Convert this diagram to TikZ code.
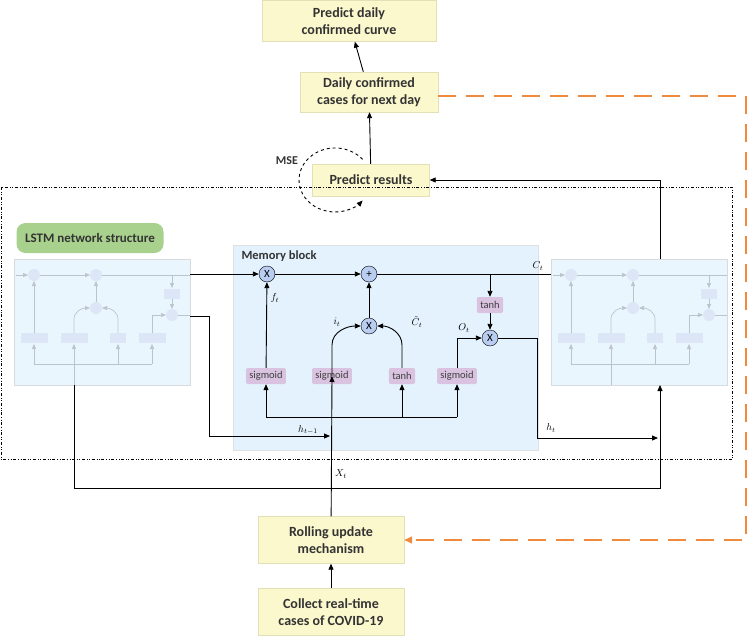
\documentclass[tikz,border=0pt]{standalone}
\usepackage{fontspec}
\setmainfont{Carlito}
\usetikzlibrary{arrows.meta,positioning}
\definecolor{boxfill}{HTML}{FCF8CE}
\definecolor{boxline}{HTML}{E3E0B8}
\definecolor{cellfill}{HTML}{EAF6FE}
\definecolor{memfill}{HTML}{E3F2FC}
\definecolor{gatefill}{HTML}{D9C3E0}
\definecolor{opfill}{HTML}{B9CDF0}
\definecolor{ghost}{HTML}{BCC3CA}
\definecolor{ghostfill}{HTML}{DDE6F6}
\definecolor{lstmgreen}{HTML}{A9D18E}
\definecolor{dashorange}{HTML}{F08A3C}
\tikzset{
  flowbox/.style={draw=boxline, fill=boxfill, minimum width=146pt, align=center,
    font=\fontsize{14}{17}\selectfont\bfseries\color{black!80}},
  gate/.style={fill=gatefill, rounded corners=2pt, minimum height=16pt,
    font=\fontsize{10.5}{11}\selectfont\color{black!75}},
  op/.style={circle, draw, fill=opfill, inner sep=0pt, minimum size=16pt,
    font=\fontsize{11}{11}\selectfont},
  lbl/.style={font=\fontsize{10}{11}\selectfont\itshape},
  conn/.style={-{Triangle[length=6pt,width=5pt]}, line width=0.9pt},
  ghostarr/.style={-{Triangle[length=5pt,width=4pt]}, draw=ghost, line width=0.7pt}
}
% faint copy of the cell, origin at its top-left corner
\newcommand\ghostcell[1]{%
  \begin{scope}[shift={#1}]
    \draw[ghost!60, fill=cellfill] (0,0) rectangle (176,126);
    \fill[ghostfill] (20,16) circle (6) (82,16) circle (6) (82,49) circle (6) (158,56) circle (6);
    \fill[ghostfill] (150,30) rectangle (166,40);
    \foreach \x/\w in {20/27,60/27,104/16,138/27}
      \fill[ghostfill] (\x-\w/2,74) rectangle (\x+\w/2,84);
    \draw[ghostarr] (2,16) -- (14,16);
    \draw[ghostarr] (26,16) -- (76,16);
    \draw[ghost, line width=0.7pt] (88,16) -- (176,16);
    \draw[ghostarr] (158,16) -- (158,29);
    \draw[ghostarr] (158,40) -- (158,50);
    \draw[ghostarr] (20,74) -- (20,22);
    \draw[ghostarr] (82,43) -- (82,22);
    \draw[ghostarr] (60,74) -- (60,60) to[out=90,in=180] (76,49);
    \draw[ghostarr] (104,74) -- (104,60) to[out=90,in=0] (88,49);
    \draw[ghostarr] (138,74) -- (138,56) -- (152,56);
    \draw[ghost, line width=0.7pt] (164,56) -- (176,56);
    \draw[ghost, line width=0.7pt] (20,105) -- (138,105);
    \foreach \x in {20,60,104,138}
      \draw[ghostarr] (\x,105) -- (\x,85);
    \draw[ghost, line width=0.7pt] (60,126) -- (60,105);
  \end{scope}}

\begin{document}
\begin{tikzpicture}[x=1pt,y=-1pt]
  \useasboundingbox (0,0) rectangle (750,637);

  % flow boxes
  \node[flowbox, minimum width=174pt, minimum height=41pt] (curve) at (349,21) {Predict daily\\confirmed curve};
  \node[flowbox, minimum width=138pt, minimum height=40pt] (daily) at (369,92) {Daily confirmed\\cases for next day};
  \node[flowbox, minimum width=117pt, minimum height=32pt] (result) at (371,180) {Predict results};
  \node[flowbox, minimum height=47pt] (rolling) at (331,540) {Rolling update\\mechanism};
  \node[flowbox, minimum height=47pt] (collect) at (331,612) {Collect real-time\\cases of COVID-19};

  % dash-dot frame
  \draw[dash dot dot, line width=0.7pt] (1,187) rectangle (732,459);
  \node[fill=lstmgreen, rounded corners=9pt, minimum width=147pt, minimum height=30pt,
    font=\fontsize{13}{15}\selectfont\bfseries\color{black!80}] (lstm) at (90,238) {LSTM network structure};

  % cells
  \ghostcell{(14,259)}
  \ghostcell{(551,259)}
  \coordinate (lcellC) at (190,274);
  \coordinate (lcellH) at (190,316);
  \coordinate (lcellB) at (74,385);
  \coordinate (rcellC) at (551,274);
  \coordinate (rcellT) at (660,259);
  \coordinate (rcellB) at (660,385);

  % memory block
  \draw[ghost!50, fill=memfill] (233,245) rectangle (538,450);
  \node[font=\fontsize{12.5}{14}\selectfont\bfseries\color{black!80}, anchor=west] (memlbl) at (238,256) {Memory block};

  \node[op] (xf) at (267,274) {X};
  \node[op] (plus) at (369,274) {+};
  \node[op] (xi) at (369,326) {X};
  \node[op] (xo) at (490,338) {X};
  \node[gate] (tanhc) at (490,305) {tanh};
  \node[gate] (sigf) at (266,376) {sigmoid};
  \node[gate] (sigi) at (332,376) {sigmoid};
  \node[gate] (tanhg) at (402,376) {tanh};
  \node[gate] (sigo) at (457,376) {sigmoid};

  \node[lbl] at (275,298) {$f_t$};
  \node[lbl] at (337,322) {$i_t$};
  \node[lbl] at (417,322) {$\tilde{C}_t$};
  \node[lbl] at (464,328) {$O_t$};
  \node[lbl] at (538,266) {$C_t$};
  \node[lbl] at (308,430) {$h_{t-1}$};
  \node[lbl] at (551,428) {$h_t$};
  \node[lbl] at (341,474) {$X_t$};

  \coordinate (cbranch) at (490,274);
  \coordinate (bus) at (402,417);

  % connectors
  \draw[conn] (lcellC) -- (xf);
  \draw[conn] (xf) -- (plus);
  \draw[line width=0.9pt] (plus) -- (rcellC);
  \draw[conn] (cbranch) -- (tanhc);
  \draw[conn] (tanhc) -- (xo);
  \draw[conn] (xi) -- (plus);
  \draw[conn] (sigf) -- (xf);
  \draw[conn] (sigi.center) -- (sigi.center |- 0,345) to[out=90,in=180] (xi);
  \draw[conn] (tanhg.north) -- (402,345) to[out=90,in=0] (xi);
  \draw[conn] (sigo.north) |- (xo);
  \draw[conn] (sigf.south |- bus) -- (sigf);
  \draw[conn] (bus) -- (tanhg);
  \draw[conn] (sigo.south |- bus) -- (sigo);
  \draw[line width=0.9pt] (sigf.south |- bus) -- (sigo.south |- bus);
  \draw[conn] (lcellH) -| (209,436) -- (330,436);
  \draw[conn] (xo) -| (537,438) -- (658,438);
  \draw[conn] (lcellB) |- (660,488) -- (rcellB);
  \draw[conn] (rolling) -- (sigi.center);
  \draw[conn] (collect) -- (rolling);
  \draw[conn] (rcellT) |- (result);
  \draw[conn] (result) -- (daily);
  \draw[conn] (daily) -- (curve);

  % MSE loop
  \draw[dashed, line width=0.9pt, -{Triangle[length=6pt,width=5pt]}]
    (362.6,159.4) arc[start angle=40, end angle=320, x radius=36pt, y radius=32pt];
  \node[font=\fontsize{12}{13}\selectfont\bfseries\color{black!80}] (mse) at (287,161) {MSE};

  % rolling feedback
  \draw[dashorange, dash pattern=on 18pt off 10pt, line width=1.4pt, -{Triangle[length=8pt,width=7pt]}]
    (daily.east |- 0,96) -- (746,96) -- (746,540) -- (rolling.east);
\end{tikzpicture}
\end{document}
